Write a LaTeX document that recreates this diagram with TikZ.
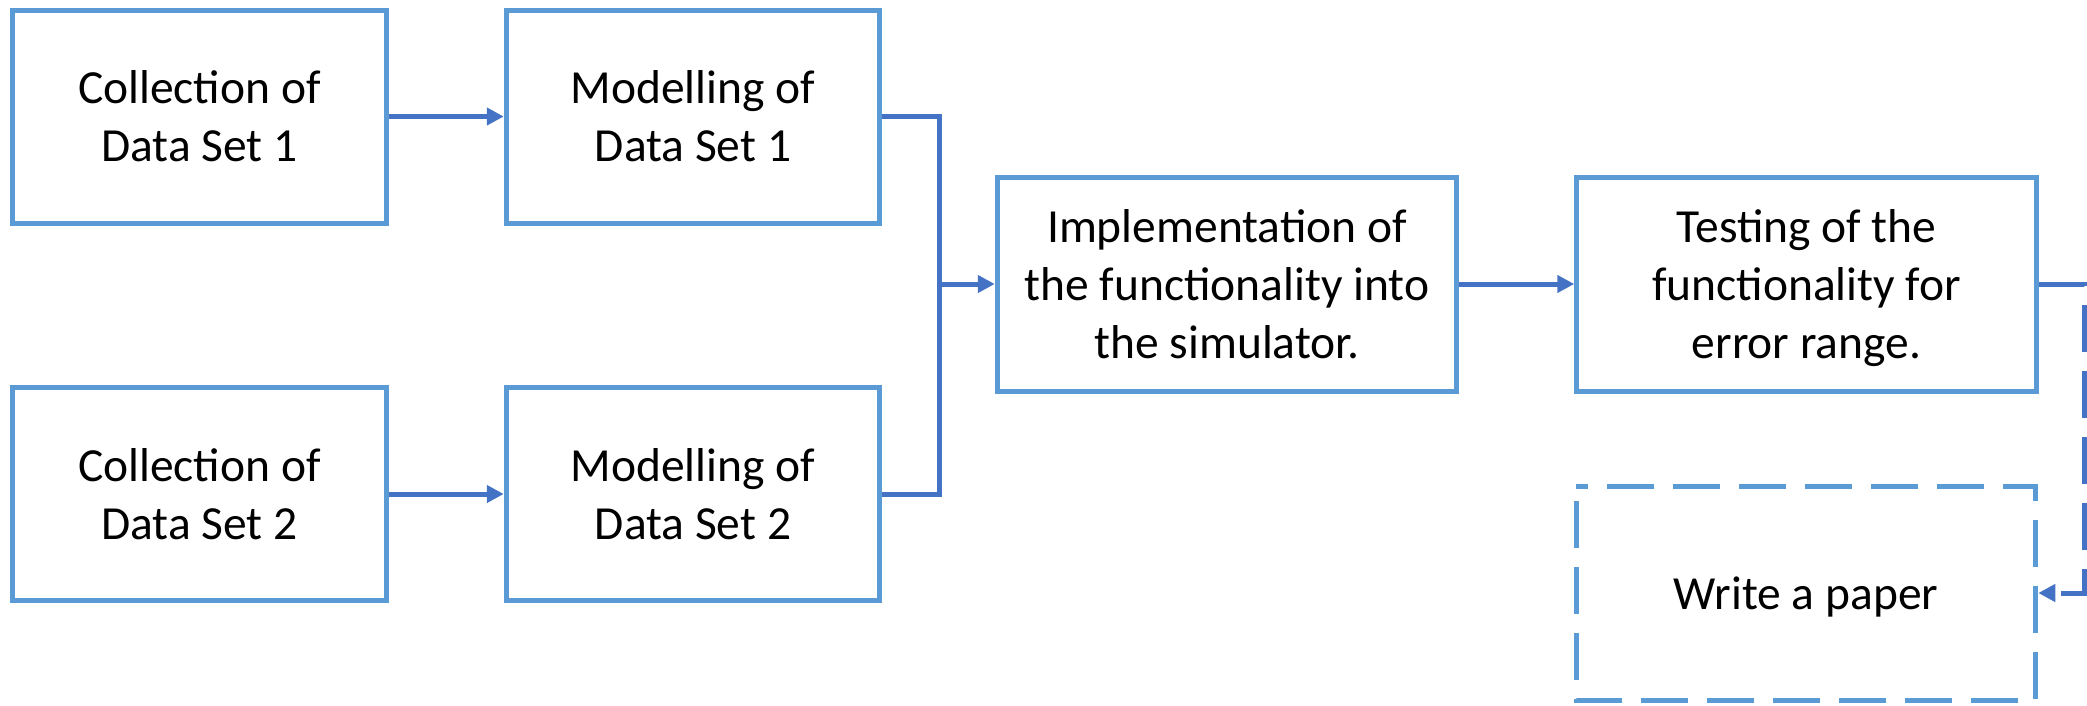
\documentclass[tikz,border=0pt]{standalone}
\usepackage{fontspec}
\setmainfont{Carlito}
\usetikzlibrary{arrows.meta}
\definecolor{boxblue}{HTML}{5B9BD5}
\definecolor{linkblue}{HTML}{4472C4}
% strut giving each text line the ascent/descent of the font's line box
\newcommand{\lstrut}{\rule[-12.8pt]{0pt}{58pt}}
\tikzset{
  stepbox/.style={rectangle, draw=boxblue, line width=5pt, align=center,
    inner sep=0pt, text=black, font=\fontsize{47.5pt}{58pt}\selectfont},
  smallbox/.style={stepbox, minimum width=373.5pt, minimum height=213pt},
  widebox/.style={stepbox, minimum width=459.5pt, minimum height=214pt},
  wire/.style={draw=linkblue, line width=5pt},
  link/.style={wire, -{Triangle[length=17pt,width=17pt]}},
  longdash/.style={dash pattern=on 47pt off 19pt}
}
\begin{document}
\begin{tikzpicture}[x=1pt,y=-1pt]
\useasboundingbox (0,0) rectangle (2087,705);

% process steps
\node[smallbox] (c1) at (199.4,116.5) {\lstrut Collection of\\\lstrut Data Set 1};
\node[smallbox] (m1) at (693,116.5) {\lstrut Modelling of\\\lstrut Data Set 1};
\node[smallbox] (c2) at (199.4,494) {\lstrut Collection of\\\lstrut Data Set 2};
\node[smallbox] (m2) at (693,494) {\lstrut Modelling of\\\lstrut Data Set 2};
\node[widebox] (impl) at (1227,284) {\lstrut Implementation of\\\lstrut the functionality into\\\lstrut the simulator.};
\node[widebox] (test) at (1806.5,284) {\lstrut Testing of the\\\lstrut functionality for\\\lstrut error range.};
\node[widebox, draw=none, outer sep=0pt] (paper) at (1806,593) {\lstrut Write a paper};

% dashed outline of the optional final step, drawn clockwise from the top left
\draw[boxblue, line width=5pt, longdash, dash phase=35pt]
  (paper.north west) -- (paper.north east) -- (paper.south east)
  -- (paper.south west) -- cycle;

% connectors
\coordinate (bus) at (939,284);
\coordinate (turn) at (2084,284);
\draw[link] (c1) -- (m1);
\draw[link] (c2) -- (m2);
\draw[wire] (m1.east) -| (bus) |- (m2.east);
\draw[link] (bus) -- (impl);
\draw[link] (impl) -- (test);
\draw[link, longdash] (test.east) -- (turn) |- ([xshift=2.5pt]paper.east);
\end{tikzpicture}
\end{document}
